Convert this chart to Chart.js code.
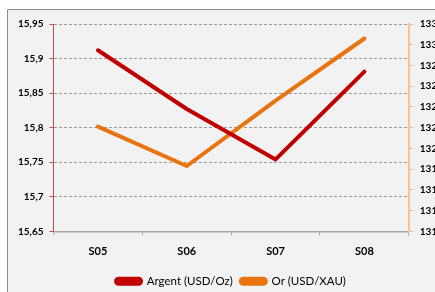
<!DOCTYPE html>
<html lang="fr">
<head>
<meta charset="UTF-8" />
<title>Argent / Or</title>
<script src="https://cdn.jsdelivr.net/npm/chart.js@4.4.0/dist/chart.umd.min.js"></script>
<style>
    html, body { margin: 0; padding: 0; overflow: hidden; background: #fff; }
    #cadre { width: 435px; height: 292px; overflow: hidden; }
</style>
</head>
<body>
<div id="cadre">
    <canvas id="graphique" width="450" height="299"></canvas>
</div>
<script>
// valeurs
var semaines = ['S05', 'S06', 'S07', 'S08'];
var argent = [15.912, 15.827, 15.754, 15.881];
var or = [1322.1, 1318.3, 1324.6, 1330.6];

// fond gris avec bordure, comme le cadre d'origine
var fond = {
    id: 'fond',
    beforeDraw: function (chart) {
        var c = chart.ctx;
        c.save();
        c.fillStyle = '#ffffff';
        c.fillRect(0, 0, chart.width, chart.height);
        c.fillStyle = '#f2f2f2';
        c.fillRect(7, 9, chart.width - 7, chart.height - 9);
        c.strokeStyle = '#8c8c8c';
        c.lineWidth = 1;
        c.beginPath();
        c.moveTo(7.5, chart.height);
        c.lineTo(7.5, 9.5);
        c.lineTo(chart.width, 9.5);
        c.stroke();
        c.restore();
    }
};

var ctx = document.getElementById('graphique').getContext('2d');
var graphique = new Chart(ctx, {
    type: 'line',
    plugins: [fond],
    data: {
        labels: semaines,
        datasets: [{
                label: 'Argent (USD/Oz)',
                data: argent,
                yAxisID: 'y',
                borderColor: '#c00000',
                backgroundColor: '#c00000',
                borderWidth: 4,
                borderCapStyle: 'round',
                borderJoinStyle: 'round',
                pointRadius: 0,
                fill: false,
                tension: 0
            },
            {
                label: 'Or (USD/XAU)',
                data: or,
                yAxisID: 'y2',
                borderColor: '#e8740f',
                backgroundColor: '#e8740f',
                borderWidth: 4,
                borderCapStyle: 'round',
                borderJoinStyle: 'round',
                pointRadius: 0,
                fill: false,
                tension: 0
            }
        ]
    },
    options: {
        responsive: false,
        animation: false,
        layout: { padding: { left: 12, right: 0, top: 24, bottom: 2 } },
        plugins: {
            tooltip: { enabled: false },
            legend: {
                position: 'bottom',
                labels: {
                    color: '#000',
                    font: { family: 'Lato', size: 11.5 },
                    boxWidth: 25,
                    boxHeight: 5,
                    useBorderRadius: true,
                    borderRadius: 2.5,
                    padding: 8
                }
            }
        },
        scales: {
            x: {
                offset: true,
                grid: {
                    offset: true,
                    drawOnChartArea: false,
                    drawTicks: true,
                    tickLength: 4,
                    color: '#a6a6a6'
                },
                border: { color: '#a6a6a6', width: 1.5 },
                ticks: {
                    color: '#000',
                    padding: 9.5,
                    font: { family: 'Lato', size: 11, weight: 'bold' }
                }
            },
            y: {
                position: 'left',
                min: 15.65,
                max: 15.95,
                afterBuildTicks: function (axe) {
                    var v = [15.65, 15.7, 15.75, 15.8, 15.85, 15.9, 15.95];
                    axe.ticks = v.map(function (x) { return { value: x }; });
                },
                grid: {
                    color: function (c) { return c.index === 0 ? 'rgba(0,0,0,0)' : '#9a9a9a'; },
                    tickColor: '#c0504d',
                    tickLength: 4,
                    lineWidth: 1
                },
                border: { color: '#c0504d', width: 1, dash: [3, 2] },
                ticks: {
                    color: '#000',
                    padding: 6,
                    font: { family: 'Lato', size: 10, weight: 'bold' },
                    callback: function (v) { return String(Math.round(v * 100) / 100).replace('.', ','); }
                }
            },
            y2: {
                position: 'right',
                min: 1312,
                max: 1332,
                ticks: {
                    stepSize: 2,
                    color: '#000',
                    padding: 7,
                    font: { family: 'Lato', size: 10, weight: 'bold' },
                    callback: function (v) { return String(v); }
                },
                grid: {
                    drawOnChartArea: false,
                    tickColor: '#f8a86a',
                    tickLength: 4
                },
                border: { color: '#fac090', width: 2 }
            }
        }
    }
});
</script>
</body>
</html>
